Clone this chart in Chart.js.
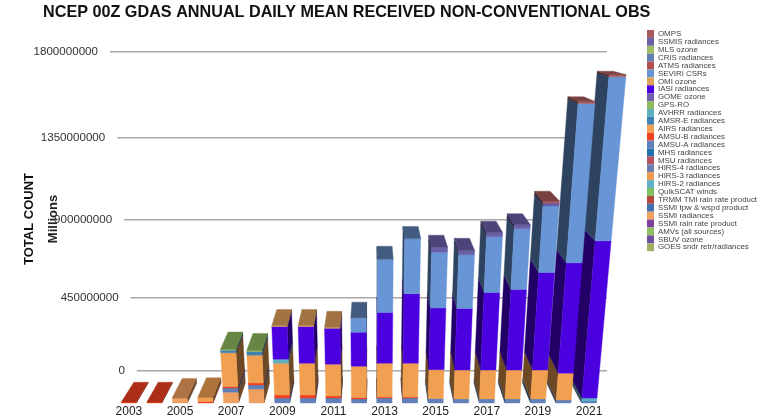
<!DOCTYPE html>
<html>
<head>
<meta charset="utf-8">
<script src="https://cdn.jsdelivr.net/npm/chart.js@4"></script>
<style>
  html, body { margin: 0; background: #fff; }
  canvas { display: block; filter: blur(0.4px); }
</style>
</head>
<body>
<canvas id="chart" width="767" height="417"></canvas>
<script>
const years = [2003, 2004, 2005, 2006, 2007, 2008, 2009, 2010, 2011, 2012, 2013, 2014, 2015, 2016, 2017, 2018, 2019, 2020, 2021];
const yearTicks = [2003, 2005, 2007, 2009, 2011, 2013, 2015, 2017, 2019, 2021];
const countTicks = [0, 450, 900, 1350, 1800]; // millions

const none = [0, 0, 0, 0, 0, 0, 0, 0, 0, 0, 0, 0, 0, 0, 0, 0, 0, 0, 0];
const ssmiRad = [0, 0, 27, 0, 59, 76, 0, 0, 0, 0, 0, 0, 0, 0, 0, 0, 0, 0, 0];
const amsuA = [0, 0, 0, 0, 22, 22, 27, 27, 27, 22, 27, 27, 24, 22, 22, 22, 22, 16, 11];
const amsuB = [5, 5, 0, 8, 8, 11, 16, 16, 11, 8, 5, 5, 0, 0, 0, 0, 0, 0, 0];
const airs = [0, 0, 0, 22, 184, 151, 173, 173, 173, 170, 184, 184, 157, 157, 157, 157, 157, 146, 0];
const amsrE = [0, 0, 0, 0, 14, 19, 0, 0, 0, 0, 0, 0, 0, 0, 0, 0, 0, 0, 0];
const avhrr = [0, 0, 0, 0, 0, 0, 22, 0, 0, 0, 0, 0, 0, 0, 0, 0, 0, 0, 16];
const gpsRo = [0, 0, 0, 0, 5, 5, 0, 0, 0, 0, 0, 0, 0, 0, 0, 0, 0, 0, 0];
const iasi = [0, 0, 0, 0, 0, 0, 178, 200, 195, 184, 276, 378, 335, 335, 422, 438, 530, 600, 854];
const omi = [0, 0, 0, 0, 0, 0, 5, 5, 5, 0, 0, 0, 0, 0, 0, 0, 0, 0, 0];
const seviri = [0, 0, 0, 0, 0, 0, 0, 0, 0, 76, 286, 297, 303, 292, 303, 330, 362, 865, 892];
const cris = [0, 0, 0, 0, 0, 0, 0, 0, 0, 3, 5, 5, 0, 0, 0, 0, 0, 0, 0];
const ssmis = [0, 0, 0, 0, 0, 0, 0, 0, 0, 0, 0, 0, 27, 22, 22, 22, 16, 0, 0];
const omps = [0, 0, 0, 0, 0, 0, 0, 0, 0, 0, 0, 0, 0, 0, 0, 0, 11, 11, 11];

// bottom of the stack first, the legend is shown reversed
const series = [
    ["GOES sndr retr/radiances", none, "#a0b060"],
    ["SBUV ozone", none, "#7050a0"],
    ["AMVs (all sources)", none, "#90c060"],
    ["SSMI rain rate product", none, "#8040a0"],
    ["SSMI radiances", ssmiRad, "#f0a060"],
    ["SSMI tpw & wspd product", none, "#4070b0"],
    ["TRMM TMI rain rate product", none, "#b5473f"],
    ["QuikSCAT winds", none, "#80c060"],
    ["HIRS-2 radiances", none, "#60b0c8"],
    ["HIRS-3 radiances", none, "#f09850"],
    ["HIRS-4 radiances", none, "#6a80b0"],
    ["MSU radiances", none, "#b85060"],
    ["MHS radiances", none, "#2070b0"],
    ["AMSU-A radiances", amsuA, "#5f80b8"],
    ["AMSU-B radiances", amsuB, "#f04020"],
    ["AIRS radiances", airs, "#f0a050"],
    ["AMSR-E radiances", amsrE, "#4080b0"],
    ["AVHRR radiances", avhrr, "#5fb0c0"],
    ["GPS-RO", gpsRo, "#8fba60"],
    ["GOME ozone", none, "#7060b0"],
    ["IASI radiances", iasi, "#4b00e0"],
    ["OMI ozone", omi, "#e0a05a"],
    ["SEVIRI CSRs", seviri, "#6795d5"],
    ["ATMS radiances", none, "#b5504f"],
    ["CRIS radiances", cris, "#5f7fb3"],
    ["MLS ozone", none, "#9dbb61"],
    ["SSMIS radiances", ssmis, "#6b5fa8"],
    ["OMPS", omps, "#a85a5a"]
];

function shade(hex, f) {
    const n = parseInt(hex.slice(1), 16);
    const r = Math.round((n >> 16) * f);
    const g = Math.round(((n >> 8) & 255) * f);
    const b = Math.round((n & 255) * f);
    return `rgb(${r},${g},${b})`;
}

// back wall of the 3D plot: gridlines bunch up towards the bottom and its left edge slants
class WallScale extends Chart.LinearScale {
    static id = "wall";
    static defaults = {};
    getPixelForValue(v) {
        const t = v / 1800;
        return super.getPixelForValue(v - 1800 * 0.106 * t * (1 - t));
    }
    slant(y) {
        return (y - this.getPixelForValue(1800)) * 0.0841;
    }
    _computeGridLineItems(area) {
        const items = super._computeGridLineItems(area);
        items.forEach(it => {
            it.x1 += this.slant(it.y1);
            it.tx1 = it.x1;
        });
        return items;
    }
    _computeLabelItems(area) {
        const items = super._computeLabelItems(area);
        items.forEach(it => {
            it.options.translation[0] += this.slant(it.options.translation[1]);
        });
        return items;
    }
    // labels hang out of the axis box, "Millions" runs through one of them
    _computeLabelArea() {
        return undefined;
    }
}
Chart.register(WallScale);

const vanishX = 372;
const vanishY = 5;
const depth = 0.05;
const lean = 0.0004;
const floorY = 403;

// redraws the stacked bars as extruded blocks from the bar elements of the chart
const blocks = {
    id: "blocks",
    beforeDatasetDraw() {
        return false;
    },
    afterDatasetsDraw(chart) {
        const ctx = chart.ctx;
        const floor = chart.chartArea.bottom;
        const metas = chart.getSortedVisibleDatasetMetas();
        const front = (x, y) => [vanishX + (x - vanishX) * (1 + (floor - y) * lean), y];
        const back = p => [p[0] + (vanishX - p[0]) * depth, p[1] + (vanishY - p[1]) * depth];
        const quad = (pts, color) => {
            ctx.beginPath();
            pts.forEach((p, i) => i ? ctx.lineTo(p[0], p[1]) : ctx.moveTo(p[0], p[1]));
            ctx.closePath();
            ctx.fillStyle = color;
            ctx.strokeStyle = color;
            ctx.lineWidth = 0.4;
            ctx.fill();
            ctx.stroke();
        };

        // outer bars first, the front of the next bar inwards hides their side
        const order = years.map((y, i) => i).sort((a, b) =>
            Math.abs(metas[0].data[b].x - vanishX) - Math.abs(metas[0].data[a].x - vanishX));

        ctx.save();
        order.forEach(i => {
            let top = null;
            metas.forEach(meta => {
                const el = meta.data[i];
                if (Math.abs(el.base - el.y) < 0.1) return;
                const color = chart.data.datasets[meta.index].backgroundColor;
                const l = el.x - el.width / 2;
                const r = el.x + el.width / 2;
                const edge = el.x < vanishX ? r : l;
                const e0 = front(edge, el.base);
                const e1 = front(edge, el.y);
                quad([e0, e1, back(e1), back(e0)], shade(color, 0.45));
                quad([front(l, el.base), front(r, el.base), front(r, el.y), front(l, el.y)], color);
                top = { l, r, y: el.y, color };
            });
            if (top) {
                const a = front(top.l, top.y);
                const b = front(top.r, top.y);
                quad([a, b, back(b), back(a)], shade(top.color, 0.72));
            }
        });
        ctx.restore();
    },
    afterLayout(chart) {
        chart.titleBlock.left = 43;
        const lg = chart.legend;
        const w = lg.right - lg.left;
        const h = lg.bottom - lg.top;
        lg.left = 647;
        lg.right = 647 + w;
        lg.top = 30;
        lg.bottom = 30 + h;

        // layout leaves the plot a few px short of the year labels, pin the floor
        const area = chart.chartArea;
        area.bottom = floorY;
        area.height = floorY - area.top;
        ["y", "wall"].forEach(id => {
            const s = chart.scales[id];
            s.bottom = floorY;
            s.height = area.height;
            s.configure();
        });
        const xs = chart.scales.x;
        xs.top = floorY;
        xs.bottom = floorY + 14;
        xs.height = 14;
    }
};

new Chart(document.getElementById("chart"), {
    type: "bar",
    plugins: [blocks],
    data: {
        labels: years,
        datasets: series.map(s => ({
            label: s[0],
            data: s[1],
            backgroundColor: s[2],
            stack: "obs",
            barThickness: 15,
            xAxisID: "x",
            yAxisID: "y"
        }))
    },
    options: {
        responsive: false,
        animation: false,
        layout: { autoPadding: false, padding: { right: 40 } },
        plugins: {
            tooltip: { enabled: false },
            title: {
                display: true,
                align: "start",
                text: "NCEP 00Z GDAS ANNUAL DAILY MEAN RECEIVED NON-CONVENTIONAL OBS",
                color: "#111",
                font: { family: "Liberation Sans", size: 16.2, weight: "bold" },
                padding: { top: 3, bottom: 12.5 }
            },
            legend: {
                position: "right",
                align: "start",
                reverse: true,
                labels: {
                    boxWidth: 7,
                    boxHeight: 7.9,
                    padding: 0,
                    color: "#444",
                    font: { family: "Liberation Sans", size: 7.9 }
                }
            }
        },
        scales: {
            x: {
                type: "linear",
                offset: false,
                stacked: true,
                min: 2002.26,
                max: 2021.7,
                afterBuildTicks(axis) {
                    axis.ticks = yearTicks.map(v => ({ value: v }));
                },
                afterFit(axis) {
                    axis.height = 14;
                },
                grid: { display: false, drawTicks: false },
                border: { display: false },
                ticks: {
                    autoSkip: false,
                    maxRotation: 0,
                    padding: 1,
                    color: "#222",
                    font: { family: "Liberation Sans", size: 12 },
                    callback: v => String(v)
                }
            },
            y: {
                position: "left",
                weight: 1,
                stacked: true,
                min: 0,
                max: 2000,
                afterFit(axis) {
                    axis.width = 42;
                },
                grid: { display: false },
                border: { display: false },
                ticks: { display: false },
                title: {
                    display: true,
                    text: "TOTAL COUNT",
                    color: "#111",
                    padding: { top: 22, bottom: 0 },
                    font: { family: "Liberation Sans", size: 13, weight: "bold" }
                }
            },
            wall: {
                type: "wall",
                axis: "y",
                position: "left",
                weight: 0,
                min: -179.4,
                max: 1895.3,
                afterBuildTicks(axis) {
                    axis.ticks = countTicks.map(v => ({ value: v }));
                },
                afterFit(axis) {
                    axis.width = 68;
                },
                grid: { color: "#a8a8a8", lineWidth: 1.4, drawTicks: false },
                border: { display: false },
                ticks: {
                    padding: 12,
                    color: "#333",
                    font: { family: "Liberation Sans", size: 11.6 },
                    callback: v => String(v * 1000000)
                },
                title: {
                    display: true,
                    text: "Millions",
                    color: "#222",
                    padding: { top: 4, bottom: 0 },
                    font: { family: "Liberation Sans", size: 13, weight: "bold" }
                }
            }
        }
    }
});
</script>
</body>
</html>
